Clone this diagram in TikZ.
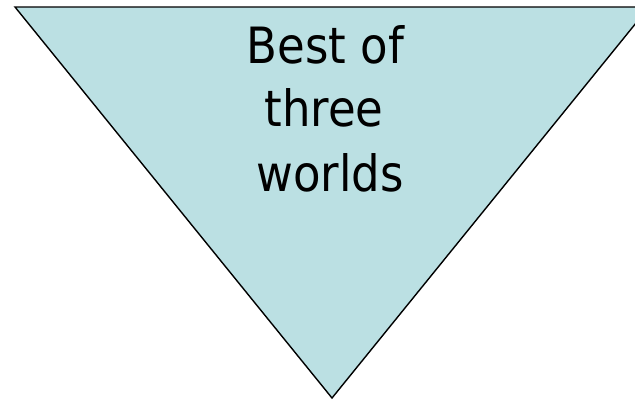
\documentclass[tikz,border=0pt]{standalone}
\usepackage{fontspec}
\newfontfamily\tfont{DejaVu Sans Condensed}
\definecolor{tri}{HTML}{BBE0E3}
\begin{document}
\begin{tikzpicture}[x=1pt,y=-1pt,
  lbl/.style={font=\tfont\fontsize{50}{60}\selectfont, inner sep=0pt, anchor=base}]
\useasboundingbox (0,0) rectangle (635,400);
\begin{scope}
\clip (0,0) rectangle (635,400);
\coordinate (tl) at (15,7);
\coordinate (tr) at (649,7);
\coordinate (bt) at (332,398);
\draw[fill=tri, line width=1.4pt, line join=miter] (tl) -- (tr) -- (bt) -- cycle;
\end{scope}
\node[lbl] (l1) at (325.5,63.3) {Best of};
\node[lbl] (l2) at (324,126.7) {three};
\node[lbl] (l3) at (330,191.7) {worlds};
\end{tikzpicture}
\end{document}
